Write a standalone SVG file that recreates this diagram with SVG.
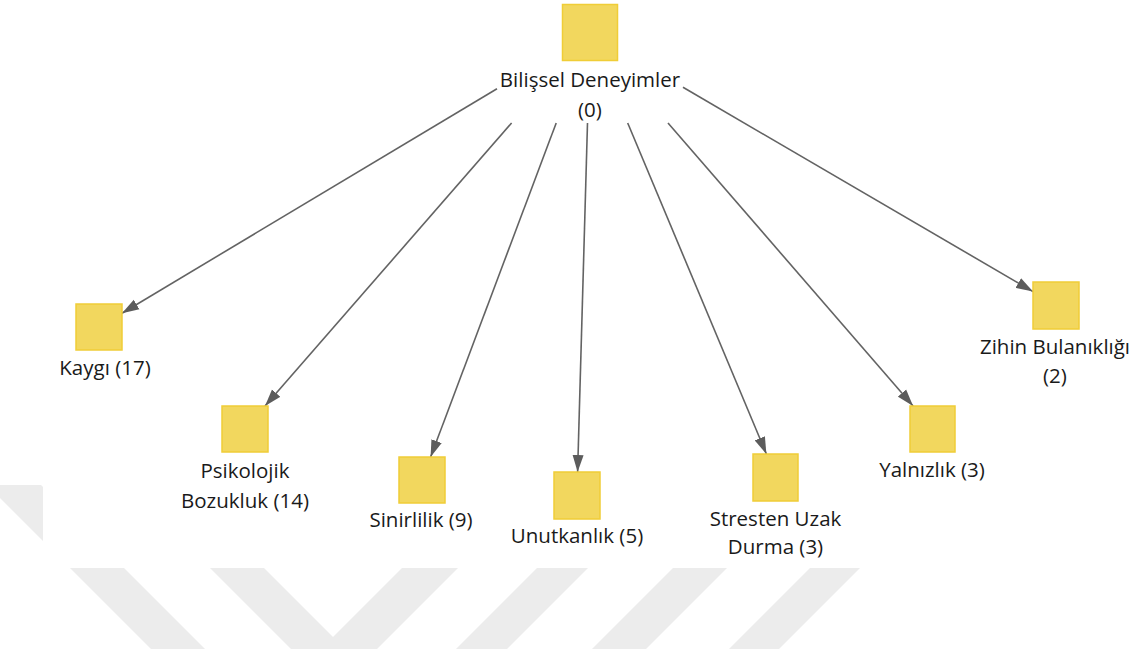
<svg xmlns="http://www.w3.org/2000/svg" width="1148" height="649" viewBox="0 0 1148 649">
  <style>
    .node rect { fill: #f2d75e; stroke: #f0cd37; stroke-width: 1.5; }
    .node text { font-family: "Open Sans", "Noto Sans", sans-serif; font-size: 20.5px; fill: #1a1a1a; text-anchor: middle; }
    .edge { stroke: #636363; stroke-width: 1.6; fill: none; marker-end: url(#arrow); }
    .wm { fill: #ececec; }
  </style>
  <defs>
    <marker id="arrow" markerUnits="userSpaceOnUse" markerWidth="18" markerHeight="12" refX="17" refY="6" orient="auto">
      <path d="M0,0.5 L17,6 L0,11.5 Z" fill="#5c5c5c"/>
    </marker>
  </defs>

  <rect width="1148" height="649" fill="#ffffff"/>

  <!-- faint background mark: diagonal bars -->
  <g id="watermark">
    <polygon class="wm" points="-13,485 41,485 216,660 162,660"/>
    <polygon class="wm" points="82,440 136,440 356,660 302,660"/>
    <polygon class="wm" points="530,440 586,440 366,660 310,660"/>
    <polygon class="wm" points="665,440 716,440 496,660 445,660"/>
    <polygon class="wm" points="801,440 855,440 635,660 581,660"/>
    <polygon class="wm" points="938,440 988,440 768,660 718,660"/>
  </g>
  <rect x="43" y="0" width="1105" height="568" fill="#ffffff"/>

  <g id="connectors">
    <line class="edge" x1="497" y1="88.7" x2="122" y2="313.2"/>
    <line class="edge" x1="511.6" y1="123" x2="265" y2="406"/>
    <line class="edge" x1="556.2" y1="123" x2="430.6" y2="457"/>
    <line class="edge" x1="587.5" y1="123" x2="577.6" y2="472"/>
    <line class="edge" x1="627.7" y1="123" x2="766.4" y2="454"/>
    <line class="edge" x1="668" y1="123" x2="913.1" y2="406"/>
    <line class="edge" x1="683" y1="87.3" x2="1033" y2="291.6"/>
  </g>

  <g id="bilissel-deneyimler" class="node">
    <rect x="562.5" y="4.5" width="55" height="56"/>
    <text x="590" y="87">Bilişsel Deneyimler</text>
    <text x="590" y="117">(0)</text>
  </g>

  <g id="kaygi" class="node">
    <rect x="76" y="304" width="46" height="46"/>
    <text x="105" y="375">Kaygı (17)</text>
  </g>

  <g id="psikolojik-bozukluk" class="node">
    <rect x="222" y="406" width="46" height="46"/>
    <text x="245" y="478">Psikolojik</text>
    <text x="245" y="508">Bozukluk (14)</text>
  </g>

  <g id="sinirlilik" class="node">
    <rect x="399" y="457" width="46" height="46"/>
    <text x="421" y="527">Sinirlilik (9)</text>
  </g>

  <g id="unutkanlik" class="node">
    <rect x="554" y="472" width="46" height="47"/>
    <text x="577" y="543">Unutkanlık (5)</text>
  </g>

  <g id="stresten-uzak-durma" class="node">
    <rect x="753" y="454" width="45" height="47"/>
    <text x="775.5" y="526">Stresten Uzak</text>
    <text x="775.5" y="554">Durma (3)</text>
  </g>

  <g id="yalnizlik" class="node">
    <rect x="910" y="406" width="45" height="46"/>
    <text x="932" y="477">Yalnızlık (3)</text>
  </g>

  <g id="zihin-bulanikligi" class="node">
    <rect x="1033" y="282" width="46" height="47"/>
    <text x="1055" y="354">Zihin Bulanıklığı</text>
    <text x="1055" y="383">(2)</text>
  </g>
</svg>
